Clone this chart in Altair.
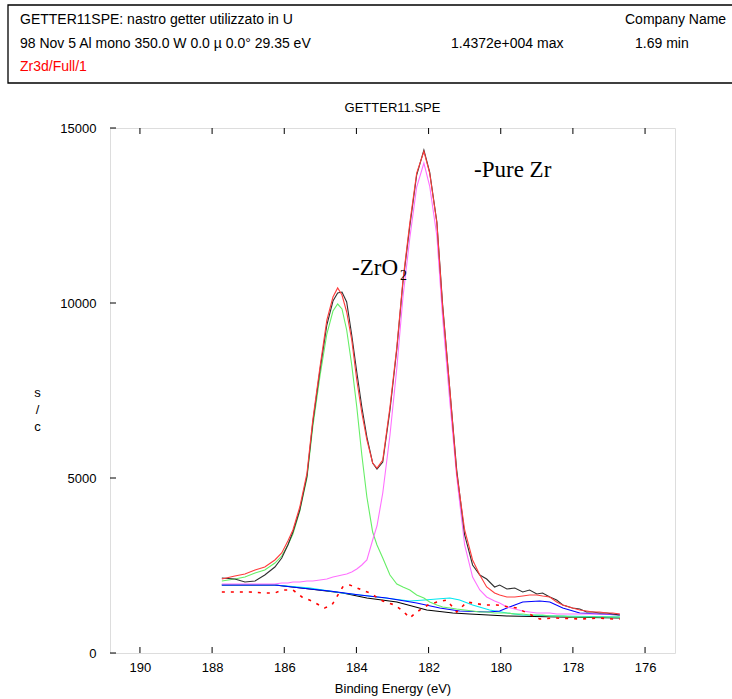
import altair as alt
import pandas as pd

# ---------------- data ----------------
E_MAIN = [187.73, 187.37, 187.09, 186.81, 186.54, 186.26, 186.07, 185.90, 185.76, 185.57,
          185.37, 185.21, 185.01, 184.82, 184.65, 184.52, 184.40, 184.27, 184.13, 183.99,
          183.85, 183.71, 183.55, 183.43, 183.27, 183.07, 182.88, 182.71, 182.52, 182.33,
          182.13, 181.97, 181.77, 181.61, 181.41, 181.22, 181.00, 180.78, 180.58, 180.39,
          180.17, 180.03, 179.83, 179.61, 179.39, 179.20, 179.00, 178.84, 178.64, 178.45,
          178.28, 178.01, 177.81, 177.62, 177.45, 177.26, 177.06, 176.90, 176.70]

RAW = [2143, 2114, 2029, 2057, 2229, 2457, 2714, 3086, 3457, 4086,
       5057, 6571, 8086, 9371, 10057, 10286, 10314, 10029, 9086, 8029,
       7029, 6171, 5429, 5257, 5457, 6943, 8686, 10600, 12200, 13657,
       14372, 13743, 12314, 9943, 7514, 5229, 3371, 2514, 2229, 2114,
       1886, 1943, 1829, 1857, 1743, 1800, 1686, 1714, 1600, 1514,
       1371, 1286, 1257, 1171, 1171, 1143, 1143, 1114, 1086]

FIT = [2114, 2200, 2257, 2371, 2457, 2657, 2857, 3200, 3514, 4171,
       5143, 6657, 8171, 9514, 10171, 10429, 10228, 9743, 8943, 7800,
       6857, 6086, 5429, 5286, 5514, 7029, 8743, 10657, 12286, 13714,
       14330, 13714, 12286, 9886, 7514, 5143, 3514, 2657, 2229, 1886,
       1714, 1657, 1600, 1600, 1629, 1657, 1657, 1629, 1600, 1457,
       1371, 1286, 1229, 1200, 1171, 1171, 1143, 1143, 1114]

ZRO2 = [2057, 2114, 2171, 2286, 2371, 2571, 2771, 3086, 3400, 4057,
        5000, 6457, 7914, 9114, 9771, 9971, 9829, 9229, 8229, 7029,
        5657, 4457, 3457, 3086, 2714, 2229, 1971, 1886, 1800, 1657,
        1571, 1457, 1371, 1314, 1286, 1257, 1229, 1200, 1171, 1171,
        1143, 1143, 1143, 1114, 1114, 1086, 1086, 1086, 1057, 1057,
        1057, 1029, 1029, 1029, 1029, 1029, 1029, 1029, 1029]

ZR = [1971, 1971, 1971, 1971, 1971, 1971, 2000, 2000, 2029, 2029,
      2057, 2057, 2086, 2114, 2171, 2200, 2229, 2257, 2314, 2400,
      2514, 2657, 3229, 3629, 4571, 6229, 8143, 10171, 11857, 13314,
      14000, 13343, 11914, 9571, 7171, 5029, 3086, 2171, 1800, 1600,
      1486, 1429, 1314, 1257, 1200, 1171, 1143, 1143, 1143, 1114,
      1114, 1114, 1114, 1114, 1114, 1114, 1114, 1114, 1114]

E_BASE = [187.73, 186.26, 185.29, 184.38, 183.71, 182.88, 182.05, 181.33, 180.86, 179.83,
          178.37, 176.70]
BASE = [1943, 1943, 1829, 1714, 1571, 1457, 1229, 1143, 1114, 1057, 1029, 1000]

E_CYAN = [187.73, 186.26, 185.29, 184.38, 183.43, 182.52, 182.11, 181.77, 181.41, 181.14,
          180.78, 180.31, 179.83, 179.39, 178.37, 176.70]
CYAN = [1943, 1943, 1857, 1714, 1600, 1486, 1514, 1543, 1571, 1514,
        1371, 1229, 1143, 1086, 1057, 1029]

E_BLUE = [187.73, 186.26, 185.29, 184.74, 183.91, 183.16, 182.33, 181.69, 181.14, 180.31,
          180.03, 179.83, 179.61, 179.39, 178.92, 178.64, 178.28, 177.81, 177.26, 176.70]
BLUE = [1943, 1943, 1829, 1771, 1657, 1571, 1429, 1286, 1200, 1171,
        1200, 1286, 1371, 1457, 1486, 1457, 1286, 1143, 1114, 1086]

E_RESID = [187.73, 187.37, 186.95, 186.54, 186.26, 186.07, 185.76, 185.51, 185.24, 184.88,
           184.68, 184.38, 184.18, 183.85, 183.63, 183.27, 182.94, 182.71, 182.52, 182.33,
           182.02, 181.77, 181.50, 181.22, 180.94, 180.44, 180.11, 179.56, 178.92, 178.50,
           177.81, 177.26, 176.90, 176.70]
RESID = [1743, 1743, 1743, 1714, 1714, 1800, 1800, 1600, 1486, 1286,
         1371, 1886, 1943, 1800, 1714, 1486, 1371, 1200, 1000, 1171,
         1371, 1457, 1514, 1171, 1457, 1371, 1371, 1286, 971, 1000,
         971, 1000, 971, 971]

X_TICKS = [190, 188, 186, 184, 182, 180, 178, 176]
Y_TICKS = [0, 5000, 10000, 15000]

SERIES = ["base", "cyan", "blue", "zro2", "zr", "raw", "fit"]
COLORS = ["#000000", "#00e8f0", "#0000ff", "#66ee66", "#ff70ff", "#303030", "#ff3c3c"]

TITLE = "GETTER11.SPE"
HEADER_1 = "GETTER11SPE: nastro getter utilizzato in U"
HEADER_2 = "98 Nov 5  Al mono 350.0 W  0.0 \u00b5  0.0\u00b0  29.35 eV"
HEADER_MAX = "1.4372e+004 max"
HEADER_MIN = "1.69 min"
HEADER_CO = "Company Name"
HEADER_3 = "Zr3d/Full/1"

# ---------------- tables ----------------
rows = []
for name, es, vs in [("base", E_BASE, BASE), ("cyan", E_CYAN, CYAN), ("blue", E_BLUE, BLUE),
                     ("zro2", E_MAIN, ZRO2), ("zr", E_MAIN, ZR), ("raw", E_MAIN, RAW),
                     ("fit", E_MAIN, FIT)]:
    for e, v in zip(es, vs):
        rows.append({"series": name, "order": SERIES.index(name), "e": e, "c": v})
df = pd.DataFrame(rows)
resid = pd.DataFrame({"e": E_RESID, "c": RESID})
xt = pd.DataFrame({"t": X_TICKS})
yt = pd.DataFrame({"t": Y_TICKS})

FONT = "Liberation Sans"
W, H = 565, 525

xscale = alt.Scale(domain=[190.83, 175.17], nice=False, zero=False)
yscale = alt.Scale(domain=[0, 15000], nice=False)

xaxis = alt.Axis(values=X_TICKS, tickSize=0, domain=False, grid=False, labelPadding=8,
                 labelFontSize=13, labelFont=FONT, labelColor="#000",
                 title="Binding Energy (eV)", titleFont=FONT, titleFontSize=13,
                 titleFontWeight="normal", titleColor="#000", titleBaseline="middle",
                 titleY=35)
yaxis = alt.Axis(values=Y_TICKS, format="d", tickSize=0, domain=False, grid=False,
                 labelPadding=14, labelFontSize=13, labelFont=FONT, labelColor="#000",
                 title=["s", "/", "c"], titleAngle=0, titleAlign="center",
                 titleBaseline="middle", titleX=-73, titleY=264, titleLineHeight=17,
                 titleFont=FONT, titleFontSize=13, titleFontWeight="normal", titleColor="#000")

lines = alt.Chart(df).mark_line(strokeWidth=1.1, interpolate="linear").encode(
    x=alt.X("e:Q", scale=xscale, axis=xaxis),
    y=alt.Y("c:Q", scale=yscale, axis=yaxis),
    color=alt.Color("series:N", scale=alt.Scale(domain=SERIES, range=COLORS), legend=None),
    detail="series:N",
    order=alt.Order("e:Q"),
)

resid_line = alt.Chart(resid).mark_line(color="#ff0000", strokeWidth=1.6,
                                        strokeDash=[3, 6]).encode(
    x=alt.X("e:Q", scale=xscale), y=alt.Y("c:Q", scale=yscale)
)

xt_bot = alt.Chart(xt).mark_rule(color="black", strokeWidth=1).encode(
    x=alt.X("t:Q", scale=xscale), y=alt.value(H), y2=alt.value(H - 6))
xt_top = alt.Chart(xt).mark_rule(color="black", strokeWidth=1).encode(
    x=alt.X("t:Q", scale=xscale), y=alt.value(0), y2=alt.value(6))
yt_left = alt.Chart(yt).mark_rule(color="black", strokeWidth=1).encode(
    y=alt.Y("t:Q", scale=yscale), x=alt.value(0), x2=alt.value(6))

one = pd.DataFrame({"k": [0]})

box = alt.Chart(one).mark_rect(fillOpacity=0, stroke="black", strokeWidth=1.3).encode(
    x=alt.value(-102), x2=alt.value(640), y=alt.value(-123), y2=alt.value(-45))


def htext(txt, x, y, color="black", size=14, align="left"):
    return alt.Chart(one).mark_text(align=align, baseline="middle", font=FONT,
                                    fontSize=size, color=color).encode(
        x=alt.value(x), y=alt.value(y), text=alt.value(txt))


header = [
    htext(HEADER_1, -90, -108),
    htext(HEADER_CO, 515, -108),
    htext(HEADER_2, -90, -84),
    htext(HEADER_MAX, 341, -84),
    htext(HEADER_MIN, 525, -84),
    htext(HEADER_3, -90, -61, color="#ff0000"),
    htext(TITLE, W / 2, -20, size=13, align="center"),
]

ann = pd.DataFrame({"e": [180.74, 184.12], "c": [13600, 10800],
                    "label": ["-Pure Zr", "-ZrO"]})
ann_text = alt.Chart(ann).mark_text(align="left", baseline="alphabetic",
                                    font="Liberation Serif", fontSize=23,
                                    color="black").encode(
    x=alt.X("e:Q", scale=xscale), y=alt.Y("c:Q", scale=yscale), text="label:N")

sub = pd.DataFrame({"e": [182.79], "c": [10650], "label": ["2"]})
sub_text = alt.Chart(sub).mark_text(align="left", baseline="alphabetic",
                                    font="Liberation Serif", fontSize=14,
                                    color="black").encode(
    x=alt.X("e:Q", scale=xscale), y=alt.Y("c:Q", scale=yscale), text="label:N")

chart = alt.layer(
    lines, resid_line, xt_bot, xt_top, yt_left, ann_text, sub_text, box, *header
).properties(
    width=W, height=H,
    autosize=alt.AutoSizeParams(type="none"),
    padding={"left": 110, "top": 128, "right": 57, "bottom": 46},
).configure_view(
    stroke="black", strokeWidth=1.2
).configure(background="white")

chart.save("out.html", embed_options={"renderer": "svg", "actions": False})
